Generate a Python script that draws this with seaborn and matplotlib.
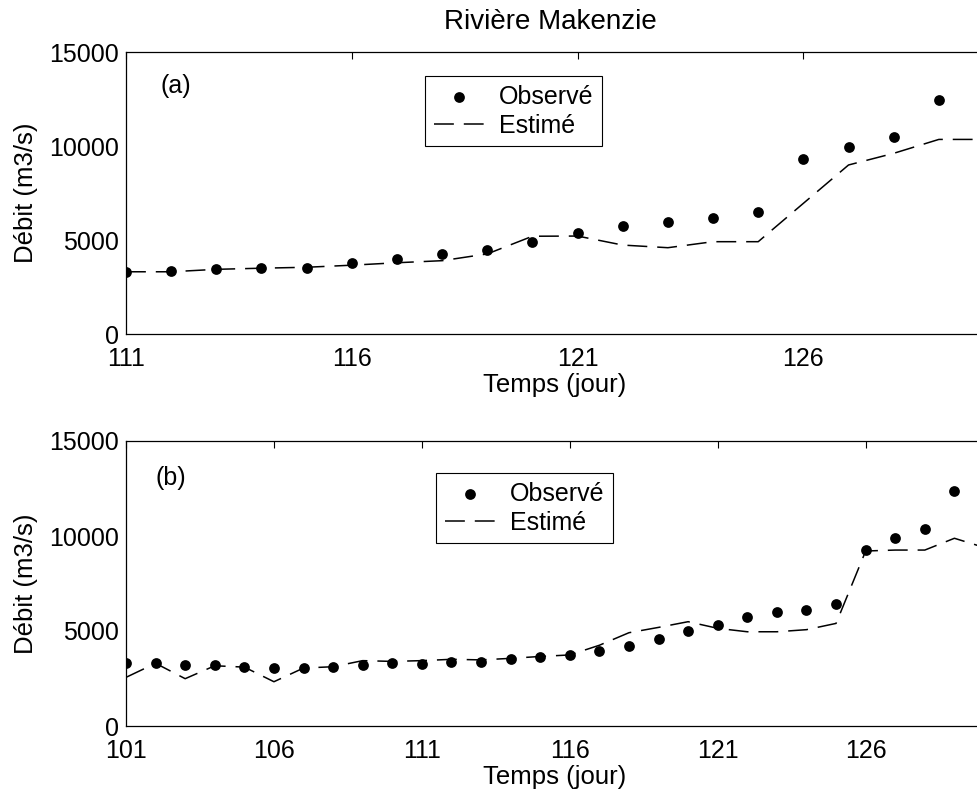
import numpy as np
import pandas as pd
import matplotlib
matplotlib.use("Agg")
import matplotlib.pyplot as plt
import seaborn as sns

# Panel (a): days 111-130
days_a = list(range(111, 131))
obs_a = [3310, 3350, 3440, 3510, 3530, 3760, 3970, 4250, 4470, 4910,
         5350, 5740, 5940, 6170, 6470, 9310, 9930, 10480, 12450]
est_a = [3310, 3310, 3440, 3500, 3550, 3660, 3790, 3900, 4260, 5200,
         5210, 4730, 4590, 4910, 4910, 6950, 8990, 9610, 10350, 10350]

# Panel (b): days 101-130
days_b = list(range(101, 131))
obs_b = [3300, 3300, 3190, 3200, 3100, 3070, 3070, 3090, 3210, 3300,
         3260, 3390, 3390, 3510, 3630, 3740, 3950, 4230, 4560, 4980,
         5320, 5740, 6020, 6100, 6440, 9260, 9890, 10390, 12370]
est_b = [2560, 3300, 2490, 3170, 3100, 2330, 3050, 3120, 3440, 3400,
         3440, 3510, 3480, 3560, 3660, 3740, 4250, 4910, 5190, 5490,
         5140, 4960, 4960, 5070, 5400, 9210, 9260, 9260, 9880, 9400]

title = "Rivière Makenzie"
ylabel = "Débit (m3/s)"
xlabel = "Temps (jour)"
yticks = [0, 5000, 10000, 15000]

sns.set_theme(style="white")
plt.rcParams["font.family"] = ["Liberation Sans", "DejaVu Sans"]
for key in ("text.color", "axes.labelcolor", "xtick.color", "ytick.color"):
    plt.rcParams[key] = "black"
FS_TICK = 18
FS_LAB = 18.5
FS_TITLE = 20

W, H = 977, 798
fig = plt.figure(figsize=(W / 100, H / 100), dpi=100)


def px_axes(left, top, right, bottom):
    return fig.add_axes([left / W, 1 - bottom / H, (right - left) / W, (bottom - top) / H])


def draw_panel(ax, days, obs, est, xticks, tag, leg_xy, tag_xy):
    df_obs = pd.DataFrame({"jour": days[:len(obs)], "debit": obs})
    df_est = pd.DataFrame({"jour": days[:len(est)], "debit": est})
    sns.lineplot(data=df_est, x="jour", y="debit", ax=ax, color="black",
                 lw=1.1, linestyle=(0, (13, 6.5)), label="Estimé", zorder=2)
    sns.scatterplot(data=df_obs, x="jour", y="debit", ax=ax, color="black",
                    s=60, edgecolor="black", linewidth=0, label="Observé", zorder=3)
    ax.set_xlim(days[0], 130)
    ax.set_ylim(0, 15000)
    ax.set_xticks(xticks)
    ax.set_yticks(yticks)
    ax.set_xlabel(xlabel, fontsize=FS_LAB, labelpad=2)
    ax.set_ylabel(ylabel, fontsize=FS_LAB, labelpad=8)
    ax.tick_params(direction="in", length=5, width=0.8, colors="black",
                   labelsize=FS_TICK, top=True, right=True)
    ax.tick_params(axis="x", pad=9)
    ax.tick_params(axis="y", pad=5)
    for s in ax.spines.values():
        s.set_color("black")
        s.set_linewidth(0.9)
    ax.text(tag_xy[0], tag_xy[1], tag, transform=ax.transAxes, fontsize=FS_TICK,
            va="center", ha="left")
    handles, labels = ax.get_legend_handles_labels()
    order = [labels.index("Observé"), labels.index("Estimé")]
    leg = ax.legend([handles[i] for i in order], [labels[i] for i in order],
                    loc="upper left", bbox_to_anchor=leg_xy, borderaxespad=0,
                    fontsize=FS_TICK, frameon=True, fancybox=False, framealpha=1,
                    edgecolor="black", handlelength=2.0, handletextpad=0.6,
                    borderpad=0.35, labelspacing=0.2, scatterpoints=1)
    leg.get_frame().set_linewidth(0.8)


ax1 = px_axes(126, 52, 984, 334)
draw_panel(ax1, days_a, obs_a, est_a, [111, 116, 121, 126], "(a)",
           (0.3485, 0.915), (0.040, 0.88))

ax2 = px_axes(126, 441, 984, 726)
draw_panel(ax2, days_b, obs_b, est_b, [101, 106, 111, 116, 121, 126], "(b)",
           (0.3613, 0.888), (0.034, 0.87))

fig.text(550 / W, 1 - 22 / H, title, ha="center", va="center", fontsize=FS_TITLE)

fig.savefig("out.png", dpi=100)
